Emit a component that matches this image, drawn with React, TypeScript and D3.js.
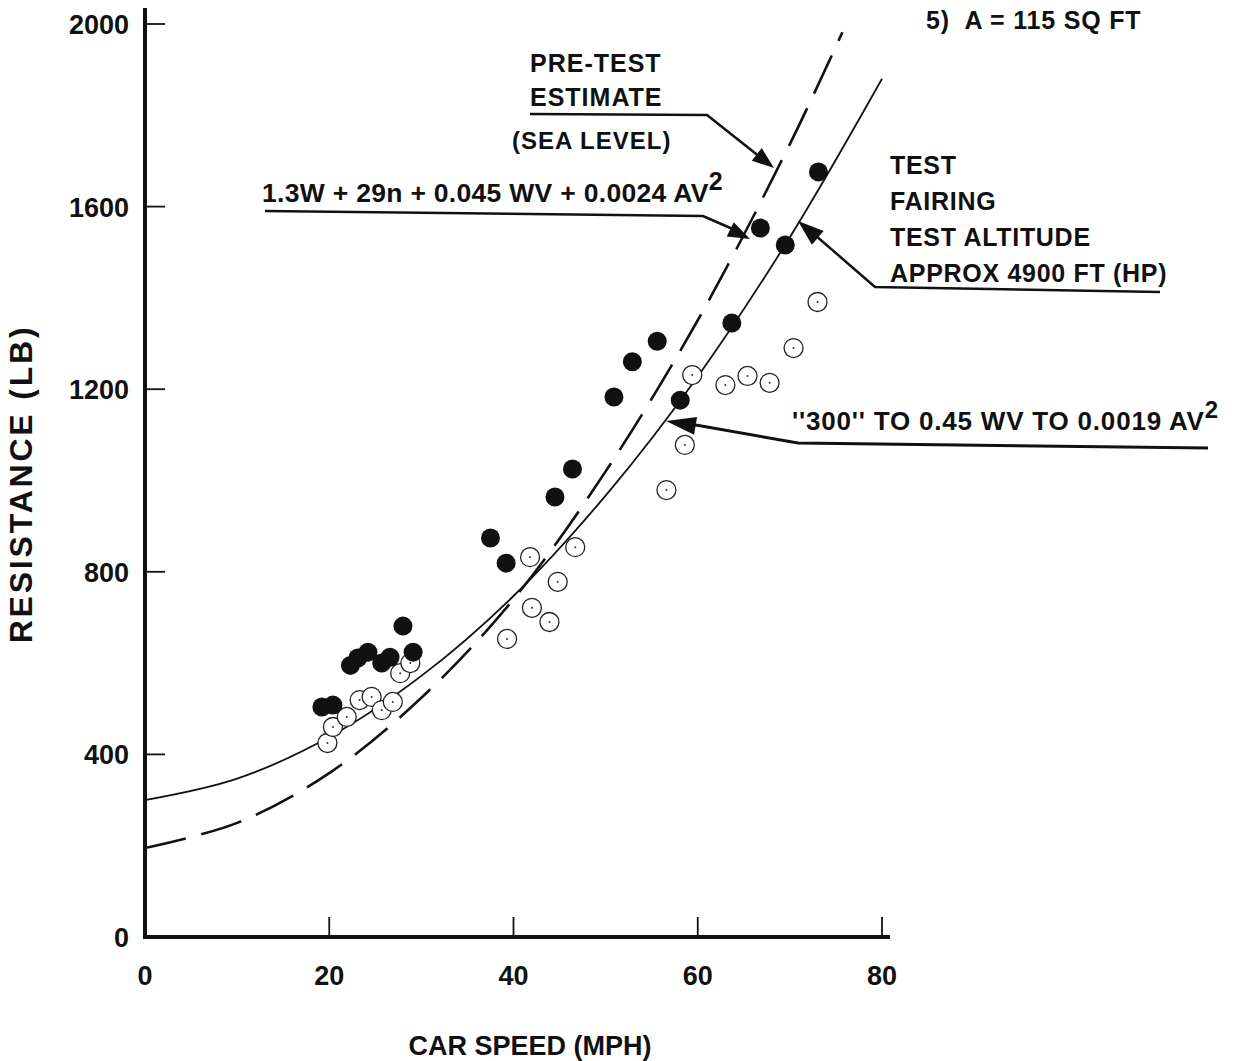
import React from "react";
import * as d3 from "d3";

// Test data (car speed mph, resistance lb)
const filledSpeed = [19.2, 20.4, 22.3, 23.1, 24.2, 25.7, 26.6, 28.0, 29.1, 37.5, 39.2, 44.5, 46.4, 50.9, 52.9, 55.6, 58.1, 63.7, 66.8, 69.5, 73.1];
const filledRes = [504, 508, 595, 611, 624, 600, 613, 681, 624, 874, 819, 964, 1025, 1183, 1260, 1305, 1176, 1345, 1553, 1516, 1676];

const openSpeed = [19.8, 20.4, 21.9, 23.3, 24.6, 25.7, 26.9, 27.7, 28.8, 39.3, 41.8, 42.0, 43.9, 44.8, 46.7, 56.6, 58.6, 59.4, 63.0, 65.4, 67.8, 70.4, 73.0];
const openRes = [425, 460, 482, 519, 526, 497, 515, 578, 600, 653, 832, 721, 690, 778, 854, 979, 1078, 1231, 1209, 1229, 1214, 1290, 1391];

// Fairing curve (solid)
const fairSpeed = [0, 10, 20, 30, 40, 50, 60, 70, 80];
const fairRes = [300, 347, 438, 572, 747, 967, 1228, 1533, 1880];

// Pre-test estimate (dashed)
const preSpeed = [0, 10, 20, 30, 40, 50, 60, 70, 75.7];
const preRes = [195, 250, 359, 524, 740, 1020, 1351, 1737, 1982];

const xTicks = [0, 20, 40, 60, 80];
const yTicks = [0, 400, 800, 1200, 1600, 2000];

const W = 1238;
const H = 1061;
const FONT = "'Liberation Sans', Arial, sans-serif";

export default function App() {
  const x = d3.scaleLinear().domain([0, 80]).range([145, 882]);
  const y = d3.scaleLinear().domain([0, 2000]).range([937, 24]);

  const line = d3
    .line<[number, number]>()
    .x((d) => x(d[0]))
    .y((d) => y(d[1]))
    .curve(d3.curveCatmullRom.alpha(0.5));

  const fairPath = line(fairSpeed.map((v, i) => [v, fairRes[i]]));
  const prePath = line(preSpeed.map((v, i) => [v, preRes[i]]));

  const arrow = (x1: number, y1: number, x2: number, y2: number, size = 22, w = 8) => {
    const a = Math.atan2(y2 - y1, x2 - x1);
    const bx = x2 - size * Math.cos(a);
    const by = y2 - size * Math.sin(a);
    const px = -Math.sin(a) * w;
    const py = Math.cos(a) * w;
    return `M${x2},${y2} L${bx + px},${by + py} L${bx - px},${by - py} Z`;
  };

  const txt = { fontFamily: FONT, fontWeight: 700, fill: "#111" } as const;

  return (
    <svg
      width={W}
      height={H}
      style={{ position: "absolute", left: 0, top: 0, background: "#fff" }}
    >
      {/* axes */}
      <line x1={x(0)} y1={8} x2={x(0)} y2={y(0) + 2} stroke="#111" strokeWidth={4} />
      <line x1={x(0) - 2} y1={y(0)} x2={x(80) + 8} y2={y(0)} stroke="#111" strokeWidth={4} />
      {yTicks.map((t) => (
        <g key={"y" + t}>
          {t > 0 && (
            <line x1={x(0)} x2={x(0) + 20} y1={y(t)} y2={y(t)} stroke="#111" strokeWidth={1.8} />
          )}
          <text x={129} y={y(t) + 10} textAnchor="end" fontSize={27} {...txt}>
            {t}
          </text>
        </g>
      ))}
      {xTicks.map((t) => (
        <g key={"x" + t}>
          {t > 0 && (
            <line x1={x(t)} x2={x(t)} y1={y(0)} y2={y(0) - 20} stroke="#111" strokeWidth={1.8} />
          )}
          <text x={x(t)} y={985} textAnchor="middle" fontSize={27} {...txt}>
            {t}
          </text>
        </g>
      ))}
      <text x={530} y={1055} textAnchor="middle" fontSize={27} {...txt}>
        CAR SPEED (MPH)
      </text>
      <text
        transform={`translate(32,${484}) rotate(-90)`}
        textAnchor="middle"
        fontSize={32}
        letterSpacing={2.8}
        {...txt}
      >
        RESISTANCE (LB)
      </text>

      {/* curves */}
      <path d={prePath || ""} fill="none" stroke="#111" strokeWidth={2.6} strokeDasharray="42,16" />
      <path d={fairPath || ""} fill="none" stroke="#111" strokeWidth={1.8} />

      {/* points */}
      {openSpeed.map((v, i) => (
        <g key={"o" + i}>
          <circle cx={x(v)} cy={y(openRes[i])} r={9.5} fill="#fff" stroke="#222" strokeWidth={1.3} />
          <circle cx={x(v)} cy={y(openRes[i])} r={1} fill="#333" />
        </g>
      ))}
      {filledSpeed.map((v, i) => (
        <circle key={"f" + i} cx={x(v)} cy={y(filledRes[i])} r={9.5} fill="#111" />
      ))}

      {/* annotations */}
      <text x={926} y={29} fontSize={25} letterSpacing={0.8} xmlSpace="preserve" {...txt}>5)  A = 115 SQ FT</text>

      <text x={530} y={72} fontSize={25} letterSpacing={1} {...txt}>PRE-TEST</text>
      <text x={530} y={106} fontSize={25} letterSpacing={1} {...txt}>ESTIMATE</text>
      <text x={512} y={149} fontSize={24} letterSpacing={1} {...txt}>(SEA LEVEL)</text>
      <polyline points="530,114 707,115 760,157" fill="none" stroke="#111" strokeWidth={2.5} />
      <path d={arrow(707, 115, 774, 168)} fill="#111" />

      <text x={262} y={202} fontSize={26.5} letterSpacing={0.3} xmlSpace="preserve" {...txt}>
        1.3W + 29n + 0.045 WV + 0.0024 AV
        <tspan dy={-12} fontSize={25}>2</tspan>
      </text>
      <polyline points="265,211 703,216 735,230" fill="none" stroke="#111" strokeWidth={2.5} />
      <path d={arrow(703, 216, 750, 239)} fill="#111" />

      <text x={890} y={174} fontSize={25} letterSpacing={0.7} {...txt}>TEST</text>
      <text x={890} y={210} fontSize={25} letterSpacing={0.7} {...txt}>FAIRING</text>
      <text x={890} y={246} fontSize={25} letterSpacing={0.7} {...txt}>TEST ALTITUDE</text>
      <text x={890} y={282} fontSize={25} letterSpacing={0.7} {...txt}>APPROX 4900 FT (HP)</text>
      <polyline points="1160,292 875,287 815,235" fill="none" stroke="#111" strokeWidth={2.5} />
      <path d={arrow(875, 287, 798, 221, 26, 9)} fill="#111" />

      <text x={792} y={430} fontSize={26} letterSpacing={0.8} {...txt}>
        ''300'' TO 0.45 WV TO 0.0019 AV
        <tspan dy={-12} fontSize={24}>2</tspan>
      </text>
      <polyline points="1208,448 798,443 690,424" fill="none" stroke="#111" strokeWidth={3} />
      <path d={arrow(798, 443, 666, 421, 30, 9)} fill="#111" />
    </svg>
  );
}
